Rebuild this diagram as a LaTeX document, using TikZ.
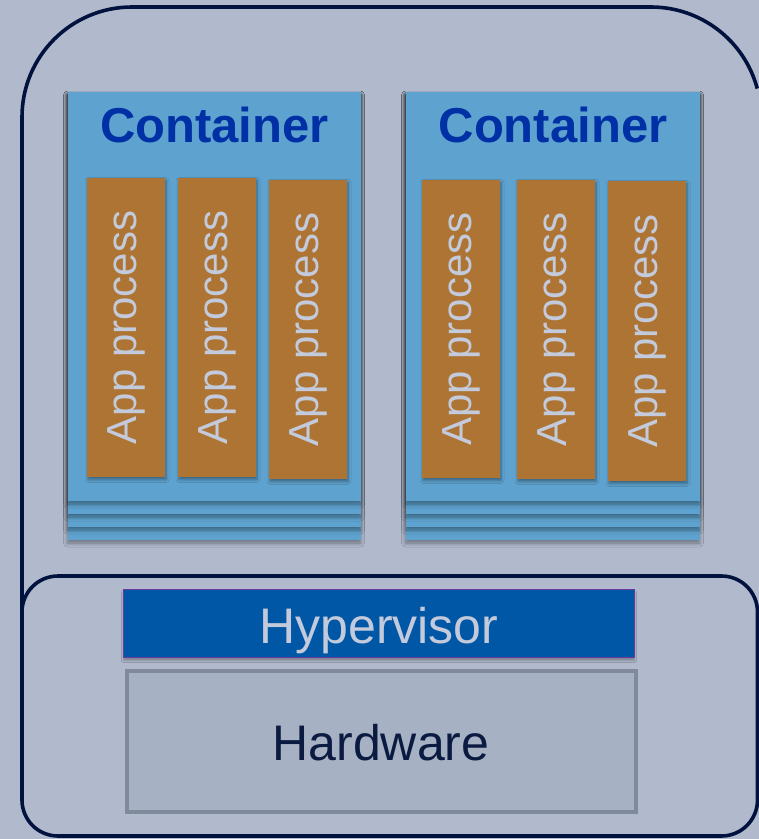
\documentclass[tikz,border=0pt]{standalone}
\usepackage{fontspec}
\setmainfont{Liberation Sans}
\usetikzlibrary{shadows,shadows.blur}
\definecolor{bgc}{HTML}{B1BACD}
\definecolor{framec}{HTML}{00123D}
\definecolor{contc}{HTML}{5EA3CF}
\definecolor{conttext}{HTML}{0030A5}
\definecolor{appc}{HTML}{AD7433}
\definecolor{apptext}{HTML}{C3CADB}
\definecolor{hypc}{HTML}{0057A6}
\definecolor{hypborder}{HTML}{6A3A9E}
\definecolor{hwc}{HTML}{A6B1C4}
\definecolor{hwborder}{HTML}{7F8A9B}
\definecolor{hwtext}{HTML}{0A1A40}
\tikzset{
  frame/.style={draw=framec, line width=3.6pt},
  layer/.style={fill=contc, blur shadow={shadow xshift=-0.5pt, shadow yshift=-3pt, shadow blur radius=4pt, shadow blur steps=8, shadow opacity=40}},
  appbox/.style={fill=appc, blur shadow={shadow xshift=1pt, shadow yshift=-2.5pt, shadow blur radius=3pt, shadow blur steps=6, shadow opacity=40}},
  apptxt/.style={rotate=90, text=apptext, font=\fontsize{42}{45}\selectfont, inner sep=0pt},
  conttxt/.style={text=conttext, font=\bfseries\fontsize{49}{55}\selectfont, inner sep=0pt},
}
\newcommand{\contstack}[3]{% #1 name, #2 left x, #3 right x
  \fill[layer] (#2,92) rectangle (#3,540);
  \fill[layer] (#2,92) rectangle (#3,527);
  \fill[layer] (#2,92) rectangle (#3,514);
  \node[layer, inner sep=0pt, minimum width={#3-#2}, minimum height=409, anchor=north west] (#1) at (#2,92) {};
}
\begin{document}
\begin{tikzpicture}[x=1pt,y=-1pt]
\useasboundingbox (0,0) rectangle (759,839);
\fill[bgc] (0,0) rectangle (759,839);

% outer frame (open on the right, leaves the picture)
\draw[frame] (22,620) -- (22,117) arc[start angle=180, end angle=90, radius=110pt]
  -- (651,7) arc[start angle=90, end angle=15, radius=110pt];
% lower frame
\draw[frame, rounded corners=36] (22,576) rectangle (757.5,836);

% containers
\contstack{c1}{68}{361}
\contstack{c2}{406}{700}
\node[conttxt] (t1) at (214.5,125) {Container};
\node[conttxt] (t2) at (553,125) {Container};

% app processes
\foreach \n/\xa/\ya/\yb in {a1/87/178/477, a2/178/178/477, a3/269/180/479, a4/422/180/478, a5/517/180/479, a6/608/181/481}{
  \fill[appbox] (\xa,\ya) rectangle ({\xa+78},\yb);
  \node[apptxt] (\n) at ({\xa+39},{(\ya+\yb)/2}) {App process};
}

% hypervisor
\node[fill=hypc, draw=hypborder, line width=1pt, minimum width=511, minimum height=68, inner sep=0pt,
      blur shadow={shadow xshift=0pt, shadow yshift=-3pt, shadow opacity=30}] (hyp) at (379,623.5) {};
\node[anchor=base, inner sep=0pt, text=apptext, font=\fontsize{50}{52}\selectfont] (hypt) at (379,643) {Hypervisor};
% hardware
\node[fill=hwc, draw=hwborder, line width=4pt, minimum width=509, minimum height=141, inner sep=0pt] (hw) at (381.5,741.5) {};
\node[anchor=base, inner sep=0pt, text=hwtext, font=\fontsize{50}{52}\selectfont] (hwt) at (381,760) {Hardware};
\end{tikzpicture}
\end{document}
